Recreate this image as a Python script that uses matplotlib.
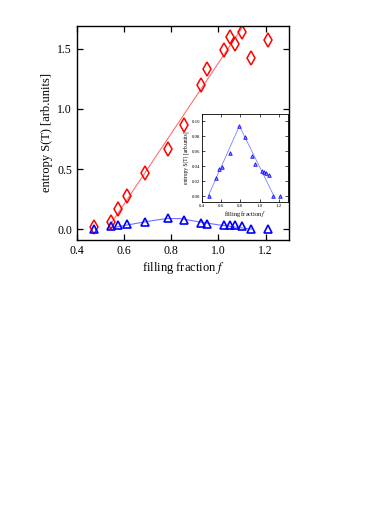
import matplotlib
matplotlib.use("Agg")
import matplotlib.pyplot as plt

plt.rcParams['font.family'] = ['Liberation Serif', 'DejaVu Serif']
plt.rcParams['mathtext.fontset'] = 'stix'

# measured points
filling = [0.47, 0.545, 0.575, 0.61, 0.69, 0.785, 0.852, 0.925, 0.953, 1.022, 1.05, 1.07, 1.098, 1.14, 1.21]
entropy_red = [0.014, 0.058, 0.167, 0.278, 0.464, 0.667, 0.867, 1.20, 1.33, 1.49, 1.60, 1.54, 1.644, 1.42, 1.57]
entropy_blue = [0.0, 0.024, 0.036, 0.039, 0.058, 0.094, 0.079, 0.054, 0.043, 0.033, 0.032, 0.031, 0.028, 0.0, 0.0]

# fit lines
red_fit_f = [0.53, 1.105]
red_fit_s = [0.005, 1.69]
blue_fit_f = [0.535, 0.6, 0.7, 0.78, 0.84, 0.92, 1.0, 1.07, 1.14]
blue_fit_s = [0.005, 0.03, 0.065, 0.088, 0.088, 0.06, 0.036, 0.018, 0.0]
inset_fit_f = [0.465, 0.79, 1.15]
inset_fit_s = [0.0, 0.094, 0.0]

fig = plt.figure(figsize=(3.74, 5.28), dpi=100)

# main plot
ax = fig.add_axes([0.206, 0.5455, 0.567, 0.4053])
ax.plot(red_fit_f, red_fit_s, color='#ff7070', linewidth=0.8)
ax.plot(blue_fit_f, blue_fit_s, color='#7070ff', linewidth=0.8)
ax.plot(filling, entropy_red, linestyle='none', marker='d', markersize=7.5,
        markerfacecolor='none', markeredgecolor='red', markeredgewidth=1.1)
ax.plot(filling, entropy_blue, linestyle='none', marker='^', markersize=6.3,
        markerfacecolor='none', markeredgecolor='blue', markeredgewidth=1.2)
ax.set_xlim(0.4, 1.3)
ax.set_ylim(-0.09, 1.69)
ax.set_xticks([0.4, 0.6, 0.8, 1.0, 1.2])
ax.set_yticks([0.0, 0.5, 1.0, 1.5])
ax.tick_params(direction='in', top=True, right=True, length=4, width=0.9, labelsize=8.5)
for s in ax.spines.values():
    s.set_linewidth(1.0)
ax.set_xlabel('filling fraction $f$', fontsize=9, labelpad=2)
ax.set_ylabel('entropy S(T) [arb.units]', fontsize=9, labelpad=3)

# inset
ins = fig.add_axes([0.540, 0.6174, 0.231, 0.1667])
ins.plot(inset_fit_f, inset_fit_s, color='#8080ff', linewidth=0.6)
ins.plot(filling, entropy_blue, linestyle='none', marker='^', markersize=2.6,
         markerfacecolor='#8080ff', markeredgecolor='blue', markeredgewidth=0.5)
ins.set_xlim(0.4, 1.3)
ins.set_ylim(-0.008, 0.11)
ins.set_xticks([0.4, 0.6, 0.8, 1.0, 1.2])
ins.set_yticks([0.0, 0.02, 0.04, 0.06, 0.08, 0.10])
ins.set_yticklabels(['0.00', '0.02', '0.04', '0.06', '0.08', '0.10'])
ins.tick_params(direction='in', top=True, right=True, length=2, width=0.5, labelsize=3.5, pad=1.5)
for s in ins.spines.values():
    s.set_linewidth(0.6)
ins.set_xlabel('filling fraction $f$', fontsize=4.5, labelpad=1)
ins.set_ylabel('entropy S(T) [arb.units]', fontsize=4, labelpad=1.5)

fig.savefig('out.png', dpi=100)
